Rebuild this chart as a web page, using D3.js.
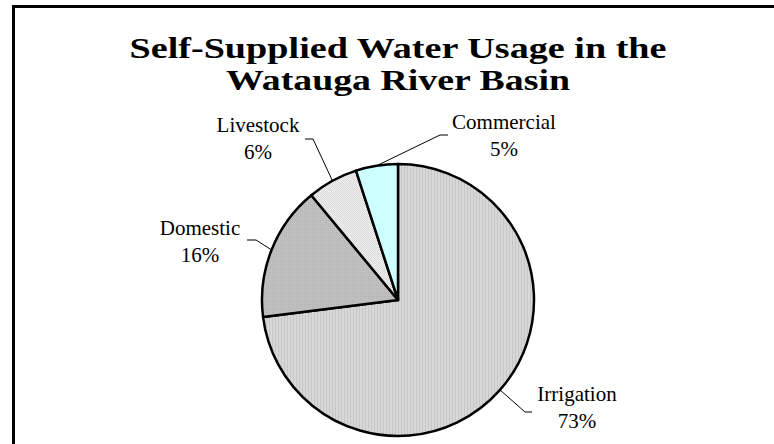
<!DOCTYPE html>
<html>
<head>
<meta charset="utf-8">
<script src="https://cdn.jsdelivr.net/npm/d3@7"></script>
<style>
  body { margin: 0; background: #fff; }
  svg { display: block; }
</style>
</head>
<body>
<div id="chart"></div>
<script>
const categories = ["Irrigation", "Domestic", "Livestock", "Commercial"];
const shares = [73, 16, 6, 5];
const pctLabels = ["73%", "16%", "6%", "5%"];
const titleLines = ["Self-Supplied Water Usage in the", "Watauga River Basin"];

// label layout (center x, baseline y of first line) and leader elbow
const labelPos = [[577, 401], [200, 235], [258, 132], [504, 129]];
const elbows = [[[525, 412], [532, 412]], [[256, 240], [247, 240]], [[313, 139], [305, 139]], [[440, 135], [448, 135]]];
const titleWidths = [537, 344];
const fills = ["url(#pIrr)", "url(#pDom)", "url(#pLiv)", "#ccffff"];

const width = 774, height = 444;
const cx = 398, cy = 300, radius = 136;

const svg = d3.select("#chart").append("svg")
    .attr("width", width)
    .attr("height", height);

const defs = svg.append("defs");

// vertical fine stripes
const pI = defs.append("pattern").attr("id", "pIrr")
    .attr("patternUnits", "userSpaceOnUse").attr("width", 3).attr("height", 3);
pI.append("rect").attr("width", 3).attr("height", 3).attr("fill", "#d8d8d8");
pI.append("rect").attr("width", 1).attr("height", 3).attr("fill", "#c6c6c6");

// fine dots, darker gray
const pD = defs.append("pattern").attr("id", "pDom")
    .attr("patternUnits", "userSpaceOnUse").attr("width", 2).attr("height", 2);
pD.append("rect").attr("width", 2).attr("height", 2).attr("fill", "#c0c0c0");
pD.append("rect").attr("width", 1).attr("height", 1).attr("fill", "#b4b4b4");

// light checker
const pL = defs.append("pattern").attr("id", "pLiv")
    .attr("patternUnits", "userSpaceOnUse").attr("width", 2).attr("height", 2);
pL.append("rect").attr("width", 2).attr("height", 2).attr("fill", "#f2f2f2");
pL.append("rect").attr("width", 1).attr("height", 1).attr("fill", "#d8d8d8");
pL.append("rect").attr("x", 1).attr("y", 1).attr("width", 1).attr("height", 1).attr("fill", "#d8d8d8");

// frame (right and bottom cut off by the window)
svg.append("rect")
    .attr("x", 13.5).attr("y", 6.5)
    .attr("width", 800).attr("height", 500)
    .attr("fill", "none")
    .attr("stroke", "#000")
    .attr("stroke-width", 3);

svg.append("g").selectAll("text")
    .data(titleLines)
    .enter().append("text")
    .attr("x", cx)
    .attr("y", (d, i) => 58 + i * 32)
    .attr("text-anchor", "middle")
    .attr("textLength", (d, i) => titleWidths[i])
    .attr("lengthAdjust", "spacingAndGlyphs")
    .style("font-family", "'Liberation Serif', 'Times New Roman', serif")
    .style("font-weight", "bold")
    .style("font-size", "30px")
    .text(d => d);

const data = categories.map((c, i) => ({ name: c, value: shares[i], pct: pctLabels[i], i: i }));

const pie = d3.pie().sort(null).value(d => d.value);
const arc = d3.arc().innerRadius(0).outerRadius(radius);
const arcs = pie(data);

const g = svg.append("g").attr("transform", "translate(" + cx + "," + cy + ")");

g.selectAll("path")
    .data(arcs)
    .enter().append("path")
    .attr("d", arc)
    .attr("fill", d => fills[d.data.i])
    .attr("stroke", "#000")
    .attr("stroke-width", 2.5)
    .attr("stroke-linejoin", "round");

// leader lines from the arc edge at the slice mid-angle
const line = d3.line();
svg.append("g").selectAll("path")
    .data(arcs)
    .enter().append("path")
    .attr("d", d => {
        const a = (d.startAngle + d.endAngle) / 2;
        const p0 = [cx + radius * Math.sin(a), cy - radius * Math.cos(a)];
        return line([p0].concat(elbows[d.data.i]));
    })
    .attr("fill", "none")
    .attr("stroke", "#000")
    .attr("stroke-width", 1);

const lab = svg.append("g").selectAll("text")
    .data(data)
    .enter().append("text")
    .attr("text-anchor", "middle")
    .style("font-family", "'Liberation Serif', 'Times New Roman', serif")
    .style("font-size", "21px");

lab.append("tspan")
    .attr("x", d => labelPos[d.i][0])
    .attr("y", d => labelPos[d.i][1])
    .text(d => d.name);
lab.append("tspan")
    .attr("x", d => labelPos[d.i][0])
    .attr("y", d => labelPos[d.i][1] + 27)
    .text(d => d.pct);
</script>
</body>
</html>
